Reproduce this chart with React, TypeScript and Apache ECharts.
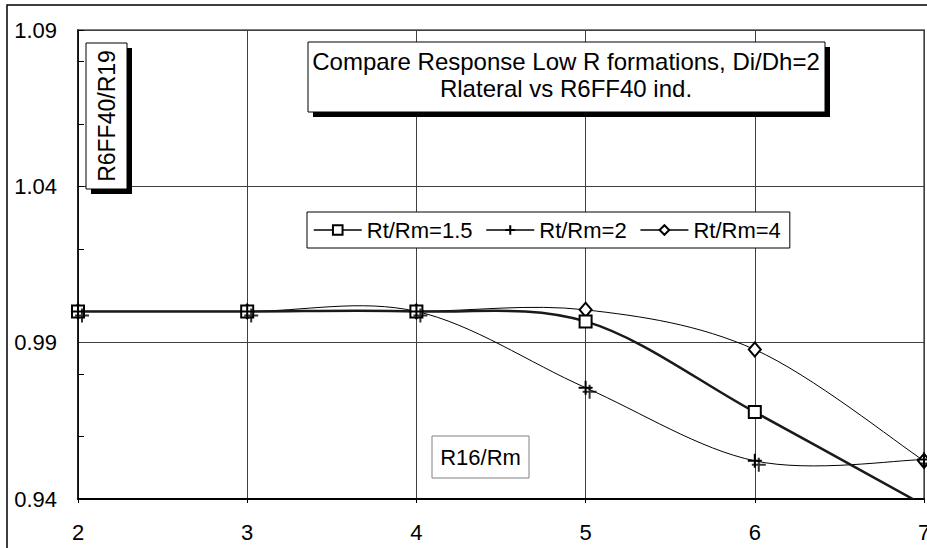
import React, { useEffect, useRef } from "react";
import * as echarts from "echarts";

const xValues = [2, 3, 4, 5, 6, 7];
const rt15 = [1.0, 1.0, 1.0, 0.9968, 0.9678, 0.938];
const rt2 = [1.0, 1.0, 1.0, 0.9756, 0.9522, 0.9526];
const rt4 = [1.0, 1.0, 1.0, 1.0005, 0.9878, 0.9522];
const seriesNames = ["Rt/Rm=1.5", "Rt/Rm=2", "Rt/Rm=4"];
const titleLines = ["Compare Response Low R formations, Di/Dh=2", "Rlateral vs R6FF40 ind."];
const yAxisTitle = "R6FF40/R19";
const xAxisTitle = "R16/Rm";

const FONT = "'Liberation Sans', Arial, sans-serif";
const PLUS = "path://M0,7H14M7,0V14";

const pairs = (ys: number[]) => xValues.map((x, i) => [x, ys[i]]);

// Smooth curve (Catmull-Rom style Bezier, like a spreadsheet's smoothed line),
// drawn segment by segment through the axis scales.
const curveSeries = (ys: number[], width: number, color: string, z: number) => ({
  type: "custom",
  name: "curve",
  data: pairs(ys),
  encode: { x: 0, y: 1 },
  clip: true,
  silent: true,
  z,
  renderItem: (params: any, api: any) => {
    const i = params.dataIndexInside;
    const n = params.dataInsideLength;
    if (i >= n - 1) return null;
    const pt = (k: number) => api.coord([api.value(0, k), api.value(1, k)]);
    const p1 = pt(i);
    const p2 = pt(i + 1);
    const p0 = i > 0 ? pt(i - 1) : p1;
    const p3 = i + 2 < n ? pt(i + 2) : p2;
    return {
      type: "bezierCurve",
      shape: {
        x1: p1[0],
        y1: p1[1],
        x2: p2[0],
        y2: p2[1],
        cpx1: p1[0] + (p2[0] - p0[0]) / 6,
        cpy1: p1[1] + (p2[1] - p0[1]) / 6,
        cpx2: p2[0] - (p3[0] - p1[0]) / 6,
        cpy2: p2[1] - (p3[1] - p1[1]) / 6,
      },
      style: { stroke: color, lineWidth: width, fill: "none" },
    };
  },
});

export default function App() {
  const ref = useRef<HTMLDivElement>(null);
  useEffect(() => {
    if (!ref.current) return;
    const chart = echarts.init(ref.current, undefined, { renderer: "svg" });
    const hiddenLine = { color: "#000", width: 1, opacity: 0 };
    chart.setOption({
      animation: false,
      backgroundColor: "#fff",
      textStyle: { fontFamily: FONT },
      grid: {
        left: 78,
        top: 30,
        right: 3,
        bottom: 49,
        show: true,
        borderColor: "#808080",
        borderWidth: 2,
        backgroundColor: "#fff",
        containLabel: false,
        outerBoundsMode: "none",
      },
      xAxis: {
        type: "value",
        min: 2,
        max: 7,
        interval: 1,
        axisLine: { lineStyle: { color: "#000", width: 2 } },
        axisTick: { show: true, length: 4, lineStyle: { color: "#000" } },
        axisLabel: { fontSize: 22, color: "#000", margin: 22, fontFamily: FONT },
        splitLine: { show: true, lineStyle: { color: "#404040", width: 1 } },
      },
      yAxis: [
        {
          type: "value",
          min: 0.94,
          max: 1.09,
          interval: 0.05,
          axisLine: { show: true, lineStyle: { color: "#000", width: 1.5 } },
          axisTick: { show: false },
          axisLabel: {
            fontSize: 22,
            color: "#000",
            margin: 21,
            fontFamily: FONT,
            formatter: (v: number) => v.toFixed(2),
          },
          splitLine: { show: true, lineStyle: { color: "#404040", width: 1 } },
        },
        {
          type: "value",
          position: "left",
          min: 0.94,
          max: 1.09,
          interval: 0.02,
          axisLine: { show: false },
          axisTick: { show: true, inside: true, length: 6, lineStyle: { color: "#000" } },
          axisLabel: { show: false },
          splitLine: { show: false },
        },
      ],
      legend: {
        data: seriesNames,
        left: 307,
        top: 212,
        orient: "horizontal",
        itemWidth: 48,
        itemHeight: 12,
        itemGap: 13,
        padding: [7, 9, 7, 6],
        backgroundColor: "#fff",
        borderColor: "#000",
        borderWidth: 1,
        borderRadius: 0,
        lineStyle: { color: "#000", width: 1.5, opacity: 1, type: "solid" },
        textStyle: { fontSize: 22, color: "#000", fontFamily: FONT },
      },
      series: [
        curveSeries(rt4, 1, "#000", 2),
        curveSeries(rt2, 1, "#000", 2),
        curveSeries(rt15, 2.5, "#1a1a1a", 3),
        {
          name: seriesNames[2],
          type: "line",
          data: pairs(rt4),
          symbol: "emptyDiamond",
          symbolSize: [12, 14],
          lineStyle: hiddenLine,
          itemStyle: { color: "#000", borderColor: "#000", borderWidth: 2 },
          z: 4,
        },
        {
          name: seriesNames[0],
          type: "line",
          data: pairs(rt15),
          symbol: "emptyRect",
          symbolSize: 12,
          lineStyle: hiddenLine,
          itemStyle: { color: "#000", borderColor: "#000", borderWidth: 2 },
          z: 5,
        },
        {
          name: seriesNames[1],
          type: "line",
          data: pairs(rt2),
          symbol: PLUS,
          symbolSize: 14,
          lineStyle: hiddenLine,
          itemStyle: { color: "#000", borderColor: "#000", borderWidth: 2 },
          z: 6,
        },
        {
          name: seriesNames[1] + " ",
          type: "scatter",
          data: pairs(rt2),
          symbol: PLUS,
          symbolSize: 14,
          symbolOffset: [4, 4],
          itemStyle: { color: "#000", borderColor: "#000", borderWidth: 2 },
          z: 6,
        },
      ],
      graphic: [
        {
          type: "rect",
          z: 100,
          shape: { x: 7, y: 5, width: 1000, height: 1000 },
          style: { fill: "none", stroke: "#000", lineWidth: 1.5 },
        },
        // title box
        {
          type: "rect",
          z: 100,
          shape: { x: 313, y: 47, width: 517, height: 70 },
          style: { fill: "#000" },
        },
        {
          type: "rect",
          z: 101,
          shape: { x: 308, y: 42, width: 517, height: 70 },
          style: { fill: "#fff", stroke: "#000", lineWidth: 1 },
        },
        {
          type: "text",
          z: 102,
          x: 566,
          y: 61,
          style: {
            text: titleLines[0],
            fontSize: 24,
            fontFamily: FONT,
            fill: "#000",
            align: "center",
            verticalAlign: "middle",
          },
        },
        {
          type: "text",
          z: 102,
          x: 566,
          y: 88,
          style: {
            text: titleLines[1],
            fontSize: 24,
            fontFamily: FONT,
            fill: "#000",
            align: "center",
            verticalAlign: "middle",
          },
        },
        // y axis title box
        {
          type: "rect",
          z: 100,
          shape: { x: 91, y: 48, width: 41, height: 146 },
          style: { fill: "#000" },
        },
        {
          type: "rect",
          z: 101,
          shape: { x: 86, y: 43, width: 41, height: 146 },
          style: { fill: "#fff", stroke: "#000", lineWidth: 1 },
        },
        {
          type: "text",
          z: 102,
          x: 107,
          y: 116,
          rotation: Math.PI / 2,
          style: {
            text: yAxisTitle,
            fontSize: 23,
            fontFamily: FONT,
            fill: "#000",
            align: "center",
            verticalAlign: "middle",
          },
        },
        // x axis title box
        {
          type: "rect",
          z: 101,
          shape: { x: 432, y: 436, width: 97, height: 42 },
          style: { fill: "#fff", stroke: "#808080", lineWidth: 1 },
        },
        {
          type: "text",
          z: 102,
          x: 480.5,
          y: 457,
          style: {
            text: xAxisTitle,
            fontSize: 22,
            fontFamily: FONT,
            fill: "#000",
            align: "center",
            verticalAlign: "middle",
          },
        },
      ],
    });
    return () => chart.dispose();
  }, []);
  return (
    <div
      ref={ref}
      style={{ position: "fixed", left: 0, top: 0, width: 927, height: 548 }}
    />
  );
}
